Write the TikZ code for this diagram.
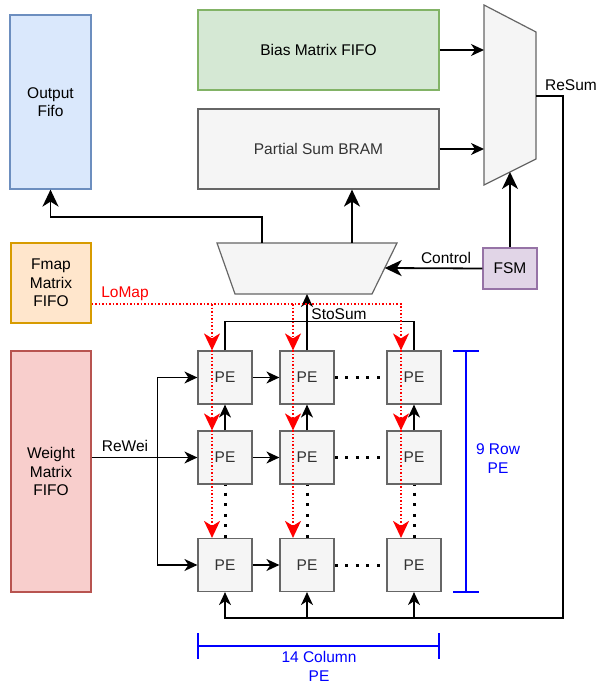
\documentclass[tikz,border=0pt]{standalone}
\usepackage{fontspec}
\setmainfont{Liberation Sans}
\usetikzlibrary{arrows.meta,calc}
\definecolor{bluefill}{HTML}{DAE8FC}\definecolor{bluestroke}{HTML}{6C8EBF}
\definecolor{greenfill}{HTML}{D5E8D4}\definecolor{greenstroke}{HTML}{82B366}
\definecolor{grayfill}{HTML}{F5F5F5}\definecolor{graystroke}{HTML}{666666}\definecolor{graytext}{HTML}{333333}
\definecolor{orangefill}{HTML}{FFE6CC}\definecolor{orangestroke}{HTML}{D79B00}
\definecolor{redfill}{HTML}{F8CECC}\definecolor{redstroke}{HTML}{B85450}
\definecolor{purplefill}{HTML}{E1D5E7}\definecolor{purplestroke}{HTML}{9673A6}
\definecolor{annblue}{HTML}{0000FF}\definecolor{annred}{HTML}{FF0000}
\begin{document}
\begin{tikzpicture}[x=1pt,y=-1pt,
  every node/.style={font=\fontsize{15.5}{18.5}\selectfont},
  box/.style={draw, line width=1.2pt, inner sep=0pt, align=center},
  pe/.style={box, fill=grayfill, draw=graystroke, text=graytext, minimum width=54pt, minimum height=53pt},
  muxshape/.style={draw=graystroke, fill=grayfill, line width=1.2pt, line join=miter},
  conn/.style={line width=1.5pt, draw=black},
  arr/.style={conn, -{Stealth[length=13pt,width=12pt,inset=4pt]}},
  bigarr/.style={line width=1.8pt, draw=black, -{Stealth[length=17pt,width=16pt,inset=5pt]}},
  reddot/.style={draw=annred, line width=1.5pt, dash pattern=on 1.5pt off 2pt},
  redarr/.style={reddot, -{Stealth[length=17pt,width=16pt,inset=5pt]}},
  hdots/.style={draw=black, line width=3pt, dash pattern=on 3pt off 7.6pt},
  vdots/.style={draw=black, line width=3pt, dash pattern=on 3pt off 7.6pt, dash phase=2.6pt},
  annline/.style={draw=annblue, line width=1.5pt},
  lbl/.style={inner sep=0pt, text=black}
]
\path[use as bounding box] (0,0) rectangle (601,684);

% boxes
\node[box, fill=bluefill, draw=bluestroke, minimum width=81pt, minimum height=174pt] (out) at (50.5,102) {Output\\Fifo};
\node[box, fill=greenfill, draw=greenstroke, minimum width=241pt, minimum height=80pt] (bias) at (318.5,50) {Bias Matrix FIFO};
\node[box, fill=grayfill, draw=graystroke, text=graytext, minimum width=241pt, minimum height=80pt] (psum) at (318.5,149) {Partial Sum BRAM};
\node[box, fill=orangefill, draw=orangestroke, minimum width=80pt, minimum height=80pt] (fmap) at (51,283) {Fmap\\Matrix\\FIFO};
\node[box, fill=redfill, draw=redstroke, minimum width=80pt, minimum height=241pt] (wt) at (51,471.5) {Weight\\Matrix\\FIFO};
\node[box, fill=purplefill, draw=purplestroke, minimum width=54pt, minimum height=41pt] (fsm) at (510,268.5) {FSM};

% multiplexers
\draw[muxshape] (484,5) -- (536,32) -- (536,159) -- (484,185) -- cycle;
\coordinate (rin1) at (484,50);
\coordinate (rin2) at (484,149);
\coordinate (rsel) at (510,172);
\coordinate (rout) at (536,96);
\draw[muxshape] (217,243) -- (397,243) -- (372,294) -- (235,294) -- cycle;
\coordinate (bo1) at (262,243);
\coordinate (bo2) at (352,243);
\coordinate (bsel) at (384.7,268);
\coordinate (bin) at (307,294);

% PE array
\node[pe] (p11) at (225,377.5) {PE};
\node[pe] (p12) at (307,377.5) {PE};
\node[pe] (p13) at (414,377.5) {PE};
\node[pe] (p21) at (225,457.5) {PE};
\node[pe] (p22) at (307,457.5) {PE};
\node[pe] (p23) at (414,457.5) {PE};
\node[pe] (p31) at (225,565) {PE};
\node[pe] (p32) at (307,565) {PE};
\node[pe] (p33) at (414,565) {PE};

% top connections
\draw[arr] (bias.east) -- (rin1);
\draw[arr] (psum.east) -- (rin2);
\draw[bigarr] (fsm.north) -- (rsel);
\draw[bigarr] (fsm.west) -- (bsel);
\node[lbl] at (446,258) {Control};
\draw[bigarr] (bo2) -- (bo2 |- psum.south);
\draw[bigarr] (bo1) -- ++(0,-26) -| (out.south);

% ReSum feedback
\coordinate (rbus) at ([yshift=-26pt]p31.south);
\draw[arr] (rout) -- ++(27,0) |- (rbus) -- (p31.south);
\draw[arr] (p32.south |- rbus) -- (p32.south);
\draw[arr] (p33.south |- rbus) -- (p33.south);
\node[lbl] at (571,85) {ReSum};

% StoSum
\draw[conn] (p11.north) -- ++(0,-29) -| (p13.north);
\draw[arr] (p12.north) -- (p12.north |- bin);
\node[lbl] at (339,314) {StoSum};

% vertical upward arrows between rows 2 and 1
\draw[arr] (p21.north) -- (p11.south);
\draw[arr] (p22.north) -- (p12.south);
\draw[arr] (p23.north) -- (p13.south);

% weights
\coordinate (wbus) at ([xshift=-40pt]p21.west);
\draw[arr] (wt.east |- p21.west) -- (p21.west);
\draw[arr] (wbus |- p11.west) -- (wbus |- p31.west) -- (p31.west);
\draw[arr] (wbus |- p11.west) -- (p11.west);
\node[lbl] at (125,446) {ReWei};

% horizontal connections
\draw[arr] (p11.east) -- (p12.west);
\draw[arr] (p21.east) -- (p22.west);
\draw[arr] (p31.east) -- (p32.west);
\draw[hdots] (p12.east) -- (p13.west);
\draw[hdots] (p22.east) -- (p23.west);
\draw[hdots] (p32.east) -- (p33.west);
\draw[vdots] (p21.south) -- (p31.north);
\draw[vdots] (p22.south) -- (p32.north);
\draw[vdots] (p23.south) -- (p33.north);

% LoMap (red dotted)
\coordinate (lm) at ([yshift=-21pt]fmap.east);
\draw[redarr] (lm) -| ([xshift=-13pt]p13.north);
\draw[redarr] ([xshift=-13pt]p11.north |- lm) -- ([xshift=-13pt]p11.north);
\draw[redarr] ([xshift=-14pt]p12.north |- lm) -- ([xshift=-14pt]p12.north);
\draw[redarr] ([xshift=-13pt]p11.north) -- ([xshift=-13pt]p21.north);
\draw[redarr] ([xshift=-14pt]p12.north) -- ([xshift=-14pt]p22.north);
\draw[redarr] ([xshift=-13pt]p13.north) -- ([xshift=-13pt]p23.north);
\draw[redarr] ([xshift=-13pt]p21.north) -- ([xshift=-13pt]p31.north);
\draw[redarr] ([xshift=-14pt]p22.north) -- ([xshift=-14pt]p32.north);
\draw[redarr] ([xshift=-13pt]p23.north) -- ([xshift=-13pt]p33.north);
\node[lbl, text=annred] at (125,293.5) {LoMap};

% dimension annotations
\coordinate (rt) at (466,351);
\coordinate (rb) at (466,592);
\draw[annline] (rt) -- (rb);
\draw[annline] ([xshift=-13pt]rt) -- ([xshift=13pt]rt);
\draw[annline] ([xshift=-13pt]rb) -- ([xshift=13pt]rb);
\node[lbl, text=annblue, align=center] at (498,458.5) {9 Row\\PE};
\coordinate (cl) at (198,646);
\coordinate (cr) at (439,646);
\draw[annline] (cl) -- (cr);
\draw[annline] ([yshift=13pt]cl) -- ([yshift=-13pt]cl);
\draw[annline] ([yshift=13pt]cr) -- ([yshift=-13pt]cr);
\node[lbl, text=annblue, align=center] at (319,666.5) {14 Column\\PE};
\end{tikzpicture}
\end{document}
